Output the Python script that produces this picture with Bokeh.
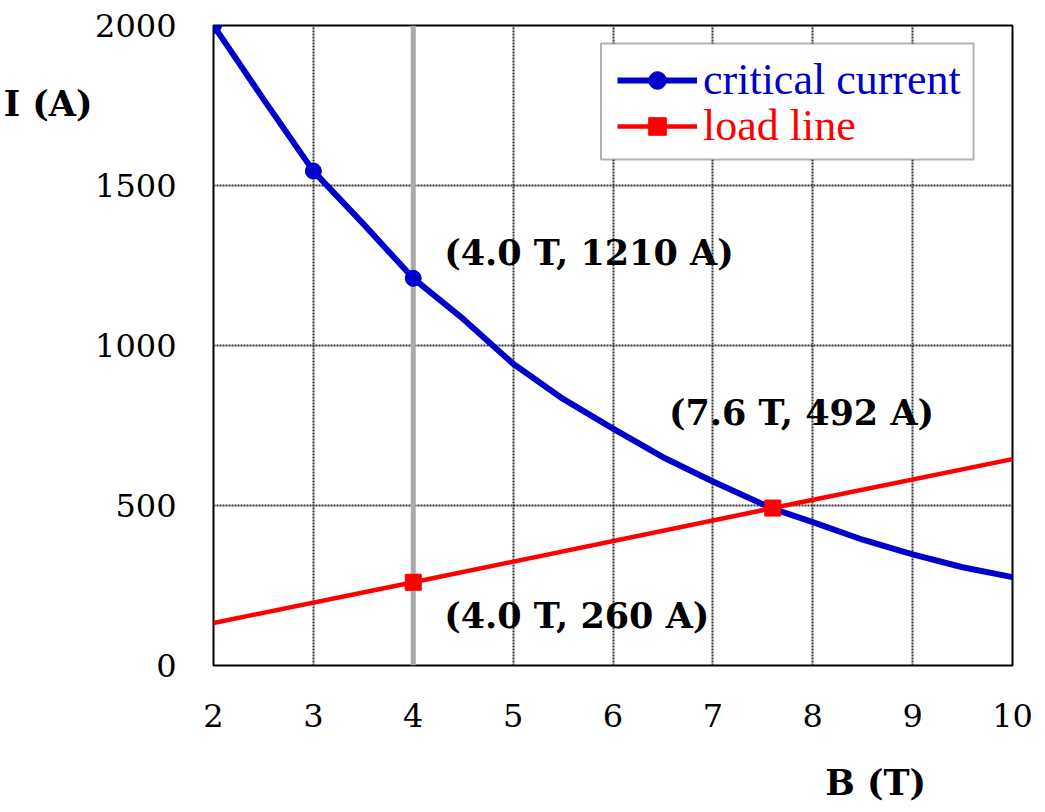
from bokeh.plotting import figure
from bokeh.models import (Label, Span, FixedTicker, Legend, LegendItem,
                          BoxAnnotation, LinearAxis)
from bokeh.embed import file_html
from bokeh.resources import INLINE

# ---- data ----
B_crit = [2.0, 2.5, 3.0, 3.5, 4.0, 4.5, 5.0, 5.5, 6.0, 6.5, 7.0, 7.6, 8.0, 8.5, 9.0, 9.5, 10.0]
I_crit = [2000, 1770, 1545, 1380, 1210, 1083, 943, 833, 740, 651, 575, 490, 448, 393, 347, 307, 276]
B_crit_markers = [2.0, 3.0, 4.0]
I_crit_markers = [2000, 1545, 1210]

B_load = [2.0, 4.0, 7.6, 10.0]
I_load = [133, 260, 492, 645]
B_load_markers = [4.0, 7.6]
I_load_markers = [260, 492]

highlight_B = 4.0
x_ticks = [2, 3, 4, 5, 6, 7, 8, 9, 10]
y_ticks = [0, 500, 1000, 1500, 2000]

ann_texts = ["(4.0 T, 1210 A)", "(7.6 T, 492 A)", "(4.0 T, 260 A)"]
ann_B = [4.0, 7.6, 4.0]
ann_I = [1210, 492, 260]

x_title = "B (T)"
y_title = "I (A)"

BLUE = "#0000CC"
RED = "#FF0000"
SERIF = "DejaVu Serif"

p = figure(width=1037, height=805, x_range=(2, 10), y_range=(0, 2000),
           output_backend="svg", toolbar_location=None,
           min_border_left=212, min_border_right=25,
           min_border_top=25, min_border_bottom=140)
p.background_fill_color = "white"
p.border_fill_color = "white"
p.outline_line_color = "black"
p.outline_line_width = 2


def style_axis(ax, size="32px", bold=False):
    ax.axis_line_color = None
    ax.major_tick_line_color = None
    ax.minor_tick_line_color = None
    ax.major_tick_out = 0
    ax.major_tick_in = 0
    ax.minor_tick_out = 0
    ax.minor_tick_in = 0
    ax.major_label_text_font = SERIF
    ax.major_label_text_font_size = size
    ax.major_label_text_color = "black"
    if bold:
        ax.major_label_text_font_style = "bold"


for ax in (p.xaxis[0], p.yaxis[0]):
    style_axis(ax)
p.xaxis[0].ticker = FixedTicker(ticks=x_ticks)
p.yaxis[0].ticker = FixedTicker(ticks=y_ticks)
p.xaxis[0].major_label_standoff = 38
p.yaxis[0].major_label_standoff = 37

# axis titles, placed as single-tick axes outside the plot frame
x_title_pos = 8.63
y_title_pos = 1756
xt_axis = LinearAxis(ticker=FixedTicker(ticks=[x_title_pos]),
                     major_label_overrides={x_title_pos: x_title})
style_axis(xt_axis, size="35px", bold=True)
xt_axis.major_label_standoff = 32
p.add_layout(xt_axis, "below")

yt_axis = LinearAxis(ticker=FixedTicker(ticks=[y_title_pos]),
                     major_label_overrides={y_title_pos: y_title})
style_axis(yt_axis, size="35px", bold=True)
yt_axis.major_label_standoff = 0
p.add_layout(yt_axis, "left")

for g in (p.xgrid, p.ygrid):
    g.grid_line_color = "#333333"
    g.grid_line_width = 2
    g.grid_line_dash = "2 1"
p.xgrid.ticker = FixedTicker(ticks=x_ticks)
p.ygrid.ticker = FixedTicker(ticks=y_ticks)

p.add_layout(Span(location=highlight_B, dimension="height",
                  line_color="#AAAAAA", line_width=5, level="underlay"))

r_cl = p.line(B_crit, I_crit, line_color=BLUE, line_width=6)
r_cm = p.scatter(B_crit_markers, I_crit_markers, marker="circle", size=16,
                 fill_color=BLUE, line_color=BLUE)
r_ll = p.line(B_load, I_load, line_color=RED, line_width=4.5)
r_lm = p.scatter(B_load_markers, I_load_markers, marker="square", size=16,
                 fill_color=RED, line_color=RED)

# legend frame
p.add_layout(BoxAnnotation(left=5.88, right=9.61, bottom=1581, top=1944,
                           fill_color="white", fill_alpha=1.0,
                           line_color="black", line_width=2, level="annotation"))


def make_legend(label, renderers, color, y):
    lg = Legend(items=[LegendItem(label=label, renderers=renderers)], location=(404, y))
    lg.label_text_font = "Liberation Serif"
    lg.label_text_font_size = "44px"
    lg.label_text_color = color
    lg.glyph_width = 80
    lg.glyph_height = 44
    lg.label_height = 44
    lg.label_standoff = 6
    lg.padding = 0
    lg.margin = 0
    lg.spacing = 0
    lg.border_line_color = None
    lg.background_fill_alpha = 0.0
    p.add_layout(lg, "center")


make_legend("critical current", [r_cl, r_cm], BLUE, 560)
make_legend("load line", [r_ll, r_lm], RED, 514)

offsets = [(0.31, 80), (-1.04, 298), (0.31, -104)]
for t, bx, iy, (dx, dy) in zip(ann_texts, ann_B, ann_I, offsets):
    p.add_layout(Label(x=bx + dx, y=iy + dy, text=t, text_font=SERIF,
                       text_font_style="bold", text_font_size="35px",
                       text_baseline="middle", text_color="black"))

open("out.html", "w").write(file_html(p, INLINE))
